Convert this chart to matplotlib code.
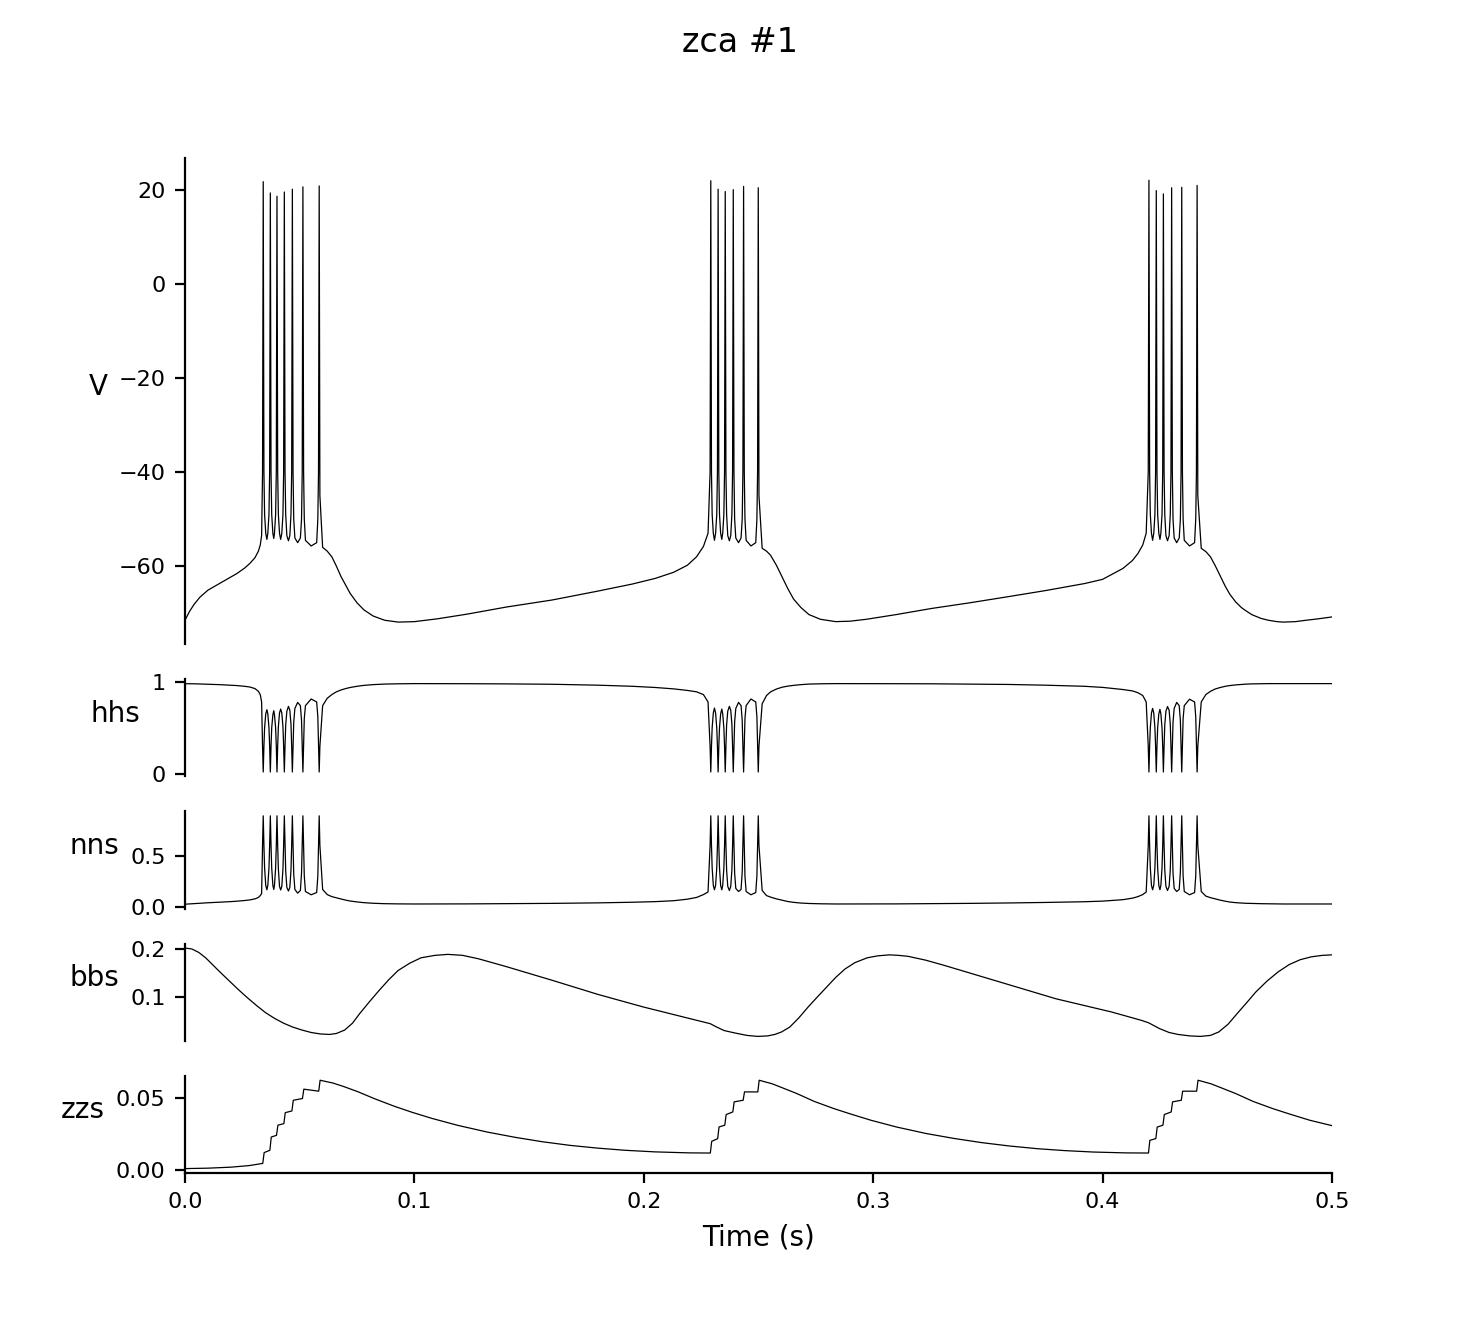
import matplotlib
matplotlib.use("Agg")
import matplotlib.pyplot as plt

# time base (s) for the fast traces V, hhs, nns
t_fast = [
    # before burst 1
    0.0000, 0.0020, 0.0040, 0.0065, 0.0100, 0.0150, 0.0190, 0.0225, 0.0260,
    0.0283, 0.0305, 0.0320, 0.0328, 0.0334,
    # burst 1 (7 spikes)
    0.0338, 0.0341, 0.0344,
    0.0347, 0.0352, 0.0357, 0.0361, 0.0366,
    0.0369, 0.0372, 0.0375,
    0.0378, 0.0383, 0.0387, 0.0390, 0.0395,
    0.0398, 0.0401, 0.0404,
    0.0407, 0.0412, 0.0417, 0.0422, 0.0427,
    0.0430, 0.0433, 0.0436,
    0.0439, 0.0444, 0.0451, 0.0457, 0.0462,
    0.0465, 0.0468, 0.0471,
    0.0474, 0.0479, 0.0491, 0.0503, 0.0508,
    0.0511, 0.0514, 0.0517,
    0.0520, 0.0525, 0.0550, 0.0574, 0.0579,
    0.0582, 0.0585, 0.0588,
    # after burst 1
    0.0600, 0.0620, 0.0640, 0.0660, 0.0680, 0.0700, 0.0720, 0.0750, 0.0780,
    0.0820, 0.0870, 0.0930, 0.1000, 0.1100, 0.1230, 0.1400, 0.1600, 0.1800,
    0.1950, 0.2050, 0.2130, 0.2190, 0.2230, 0.2260, 0.2280,
    # burst 2 (6 spikes)
    0.2289, 0.2292, 0.2295,
    0.2298, 0.2303, 0.2308, 0.2313, 0.2318,
    0.2321, 0.2324, 0.2327,
    0.2330, 0.2335, 0.2340, 0.2344, 0.2349,
    0.2352, 0.2355, 0.2358,
    0.2361, 0.2366, 0.2373, 0.2379, 0.2384,
    0.2387, 0.2390, 0.2393,
    0.2396, 0.2401, 0.2413, 0.2424, 0.2429,
    0.2432, 0.2435, 0.2438,
    0.2441, 0.2446, 0.2467, 0.2488, 0.2493,
    0.2496, 0.2499, 0.2502,
    # after burst 2
    0.2516, 0.2535, 0.2553, 0.2578, 0.2603, 0.2628, 0.2653, 0.2685, 0.2720,
    0.2770, 0.2837, 0.2900, 0.2970, 0.3100, 0.3254, 0.3420, 0.3587, 0.3750,
    0.3921, 0.4000, 0.4088, 0.4130, 0.4154, 0.4175, 0.4190,
    # burst 3 (6 spikes)
    0.4199, 0.4202, 0.4205,
    0.4208, 0.4213, 0.4218, 0.4223, 0.4228,
    0.4231, 0.4234, 0.4237,
    0.4240, 0.4245, 0.4250, 0.4254, 0.4259,
    0.4262, 0.4265, 0.4268,
    0.4271, 0.4276, 0.4283, 0.4290, 0.4295,
    0.4298, 0.4301, 0.4304,
    0.4307, 0.4312, 0.4323, 0.4334, 0.4339,
    0.4342, 0.4345, 0.4348,
    0.4351, 0.4356, 0.4379, 0.4401, 0.4406,
    0.4409, 0.4412, 0.4415,
    # after burst 3
    0.4430, 0.4450, 0.4470, 0.4490, 0.4510, 0.4535, 0.4555, 0.4580, 0.4605,
    0.4622, 0.4650, 0.4690, 0.4722, 0.4760, 0.4788, 0.4840, 0.4888, 0.4940,
    0.5000,
]

V = [
    -71.5, -69.6, -68.1, -66.6, -65.1, -63.7, -62.6, -61.6, -60.4,
    -59.4, -58.2, -56.8, -55.5, -53.5,
    -40, 21.8, -40,
    -49, -53, -54.3, -53, -49,
    -40, 19.4, -40,
    -49, -53, -54.1, -53, -49,
    -40, 18.7, -40,
    -49, -53, -54.3, -53, -49,
    -40, 19.6, -40,
    -49, -53.5, -54.6, -53.5, -49,
    -40, 20.2, -40,
    -50, -54, -55.0, -54, -50,
    -40, 20.7, -40,
    -50, -54.5, -55.7, -55, -50,
    -40, 20.9, -45,
    -56.0, -56.8, -58.0, -60.0, -62.2, -64.0, -65.8, -67.8, -69.3,
    -70.6, -71.5, -71.9, -71.8, -71.2, -70.2, -68.7, -67.2, -65.3,
    -63.8, -62.6, -61.3, -59.8, -58.0, -55.8, -53.0,
    -40, 22.0, -40,
    -49, -53, -54.5, -53, -49,
    -40, 20.2, -40,
    -49, -53, -54.3, -53, -49,
    -40, 19.7, -40,
    -49, -53.5, -54.6, -53.5, -49,
    -40, 20.1, -40,
    -50, -54, -55.0, -54, -50,
    -40, 20.8, -40,
    -50, -54.5, -55.7, -55, -50,
    -40, 20.5, -45,
    -56.2, -56.8, -57.7, -59.8, -62.3, -64.8, -67.0, -68.8, -70.3,
    -71.3, -71.8, -71.7, -71.3, -70.3, -69.0, -67.8, -66.5, -65.2,
    -63.7, -62.8, -60.5, -58.8, -57.3, -55.5, -53.0,
    -40, 22.1, -40,
    -49, -53, -54.5, -53, -49,
    -40, 19.9, -40,
    -49, -53, -54.3, -53, -49,
    -40, 19.2, -40,
    -49, -53.5, -54.6, -53.5, -49,
    -40, 20.5, -40,
    -50, -54, -55.0, -54, -50,
    -40, 20.6, -40,
    -50, -54.5, -55.7, -55, -50,
    -40, 21.0, -45,
    -56.2, -56.9, -58.0, -59.8, -61.8, -64.3, -66.0, -67.6, -68.8,
    -69.4, -70.3, -71.1, -71.5, -71.8, -71.9, -71.8, -71.5, -71.2,
    -70.8,
]

hhs = [
    0.978, 0.978, 0.977, 0.975, 0.972, 0.968, 0.963, 0.958, 0.950,
    0.942, 0.925, 0.895, 0.860, 0.780,
    0.30, 0.02, 0.30,
    0.50, 0.65, 0.696, 0.65, 0.50,
    0.30, 0.02, 0.30,
    0.50, 0.64, 0.685, 0.64, 0.50,
    0.30, 0.02, 0.30,
    0.51, 0.66, 0.703, 0.66, 0.51,
    0.30, 0.02, 0.30,
    0.53, 0.68, 0.732, 0.69, 0.54,
    0.30, 0.02, 0.30,
    0.56, 0.71, 0.775, 0.74, 0.58,
    0.30, 0.02, 0.30,
    0.60, 0.74, 0.812, 0.78, 0.62,
    0.30, 0.02, 0.30,
    0.74, 0.82, 0.86, 0.89, 0.91, 0.925, 0.937, 0.950, 0.960,
    0.968, 0.974, 0.977, 0.979, 0.979, 0.978, 0.976, 0.972, 0.962,
    0.950, 0.937, 0.922, 0.905, 0.89, 0.86, 0.78,
    0.30, 0.02, 0.30,
    0.50, 0.66, 0.714, 0.66, 0.50,
    0.30, 0.02, 0.30,
    0.50, 0.65, 0.703, 0.65, 0.50,
    0.30, 0.02, 0.30,
    0.53, 0.68, 0.732, 0.69, 0.54,
    0.30, 0.02, 0.30,
    0.56, 0.71, 0.775, 0.74, 0.58,
    0.30, 0.02, 0.30,
    0.60, 0.74, 0.812, 0.78, 0.62,
    0.30, 0.02, 0.30,
    0.76, 0.85, 0.89, 0.92, 0.94, 0.952, 0.96, 0.968, 0.974,
    0.977, 0.979, 0.979, 0.979, 0.978, 0.977, 0.974, 0.970, 0.962,
    0.950, 0.938, 0.915, 0.90, 0.88, 0.85, 0.78,
    0.30, 0.02, 0.30,
    0.50, 0.66, 0.710, 0.66, 0.50,
    0.30, 0.02, 0.30,
    0.50, 0.65, 0.700, 0.65, 0.50,
    0.30, 0.02, 0.30,
    0.53, 0.68, 0.730, 0.69, 0.54,
    0.30, 0.02, 0.30,
    0.56, 0.71, 0.775, 0.74, 0.58,
    0.30, 0.02, 0.30,
    0.60, 0.74, 0.810, 0.78, 0.62,
    0.30, 0.02, 0.30,
    0.78, 0.86, 0.895, 0.92, 0.935, 0.95, 0.958, 0.965, 0.970,
    0.973, 0.976, 0.978, 0.979, 0.979, 0.979, 0.979, 0.979, 0.979,
    0.979,
]

nns = [
    0.026, 0.029, 0.032, 0.036, 0.040, 0.045, 0.050, 0.055, 0.062,
    0.068, 0.078, 0.092, 0.110, 0.130,
    0.60, 0.89, 0.60,
    0.38, 0.21, 0.167, 0.21, 0.38,
    0.60, 0.89, 0.60,
    0.38, 0.21, 0.170, 0.21, 0.38,
    0.60, 0.89, 0.60,
    0.37, 0.20, 0.165, 0.20, 0.37,
    0.60, 0.89, 0.60,
    0.35, 0.19, 0.155, 0.19, 0.36,
    0.60, 0.89, 0.60,
    0.32, 0.17, 0.134, 0.16, 0.33,
    0.60, 0.89, 0.60,
    0.30, 0.15, 0.118, 0.14, 0.30,
    0.60, 0.89, 0.60,
    0.17, 0.12, 0.10, 0.088, 0.077, 0.066, 0.057, 0.048, 0.041,
    0.035, 0.031, 0.029, 0.028, 0.028, 0.029, 0.031, 0.034, 0.039,
    0.045, 0.051, 0.060, 0.075, 0.092, 0.12, 0.145,
    0.60, 0.89, 0.60,
    0.38, 0.21, 0.167, 0.21, 0.38,
    0.60, 0.89, 0.60,
    0.38, 0.21, 0.167, 0.21, 0.38,
    0.60, 0.89, 0.60,
    0.36, 0.20, 0.160, 0.20, 0.36,
    0.60, 0.89, 0.60,
    0.33, 0.18, 0.150, 0.17, 0.34,
    0.60, 0.89, 0.60,
    0.30, 0.15, 0.118, 0.14, 0.30,
    0.60, 0.89, 0.60,
    0.16, 0.11, 0.095, 0.078, 0.065, 0.052, 0.044, 0.037, 0.033,
    0.030, 0.028, 0.028, 0.028, 0.029, 0.031, 0.034, 0.038, 0.043,
    0.050, 0.056, 0.070, 0.085, 0.10, 0.12, 0.145,
    0.60, 0.89, 0.60,
    0.38, 0.21, 0.167, 0.21, 0.38,
    0.60, 0.89, 0.60,
    0.38, 0.21, 0.167, 0.21, 0.38,
    0.60, 0.89, 0.60,
    0.36, 0.20, 0.160, 0.20, 0.36,
    0.60, 0.89, 0.60,
    0.33, 0.18, 0.150, 0.17, 0.34,
    0.60, 0.89, 0.60,
    0.30, 0.15, 0.118, 0.14, 0.30,
    0.60, 0.89, 0.60,
    0.15, 0.105, 0.09, 0.078, 0.067, 0.055, 0.047, 0.041, 0.037,
    0.035, 0.033, 0.031, 0.030, 0.029, 0.028, 0.028, 0.028, 0.028,
    0.028,
]

# slow variable bbs
t_b = [
    0.0000, 0.0030, 0.0060, 0.0090, 0.0120, 0.0150, 0.0190, 0.0230, 0.0270, 0.0310,
    0.0350, 0.0390, 0.0430, 0.0470, 0.0510, 0.0550, 0.0590, 0.0630, 0.0660, 0.0696,
    0.0730, 0.0762, 0.0804, 0.0846, 0.0888, 0.0929, 0.0980, 0.1029, 0.1090, 0.1146,
    0.1210, 0.1279, 0.1400, 0.1600, 0.1800, 0.2000, 0.2230, 0.2290, 0.2314, 0.2350,
    0.2397, 0.2450, 0.2497, 0.2540, 0.2571, 0.2600, 0.2636, 0.2676, 0.2716, 0.2757,
    0.2797, 0.2837, 0.2877, 0.2920, 0.2974, 0.3020, 0.3071, 0.3110, 0.3152, 0.3230,
    0.3313, 0.3555, 0.3797, 0.4039, 0.4168, 0.4200, 0.4248, 0.4290, 0.4329, 0.4380,
    0.4426, 0.4470, 0.4506, 0.4547, 0.4587, 0.4628, 0.4668, 0.4716, 0.4765, 0.4813,
    0.4861, 0.4910, 0.4958, 0.5000,
]
bbs = [
    0.201, 0.199, 0.192, 0.181, 0.167, 0.153, 0.135, 0.117, 0.100, 0.084,
    0.069, 0.057, 0.047, 0.039, 0.033, 0.028, 0.025, 0.024, 0.026, 0.033,
    0.047, 0.067, 0.091, 0.114, 0.136, 0.155, 0.170, 0.181, 0.186, 0.188,
    0.186, 0.179, 0.163, 0.135, 0.106, 0.080, 0.053, 0.046, 0.040, 0.032,
    0.027, 0.022, 0.020, 0.021, 0.024, 0.029, 0.039, 0.058, 0.080, 0.101,
    0.121, 0.141, 0.158, 0.171, 0.181, 0.185, 0.187, 0.186, 0.184, 0.176,
    0.165, 0.131, 0.097, 0.070, 0.053, 0.048, 0.036, 0.028, 0.024, 0.021,
    0.020, 0.022, 0.029, 0.045, 0.067, 0.089, 0.111, 0.133, 0.152, 0.167,
    0.177, 0.183, 0.186, 0.187,
]

# staircase variable zzs
t_z = [
    0.0000, 0.0100, 0.0200, 0.0280, 0.0339,
    0.0345, 0.0370, 0.0376, 0.0399, 0.0405, 0.0431, 0.0437, 0.0466, 0.0472,
    0.0512, 0.0518, 0.0583, 0.0589,
    0.0646, 0.0694, 0.0754, 0.0829, 0.0915, 0.0989, 0.1077, 0.1189, 0.1319,
    0.1439, 0.1559, 0.1679, 0.1799, 0.1919, 0.2049, 0.2200, 0.2290,
    0.2296, 0.2322, 0.2328, 0.2353, 0.2359, 0.2388, 0.2394, 0.2433, 0.2439,
    0.2497, 0.2503,
    0.2560, 0.2608, 0.2668, 0.2743, 0.2829, 0.2903, 0.2991, 0.3103, 0.3232,
    0.3353, 0.3474, 0.3593, 0.3716, 0.3833, 0.3958, 0.4100, 0.4200,
    0.4206, 0.4232, 0.4238, 0.4263, 0.4269, 0.4299, 0.4305, 0.4343, 0.4349,
    0.4410, 0.4416,
    0.4473, 0.4521, 0.4581, 0.4656, 0.4742, 0.4816, 0.4904, 0.5000,
]
zzs = [
    0.0012, 0.0015, 0.0022, 0.0033, 0.0048,
    0.0123, 0.0139, 0.0231, 0.0243, 0.0313, 0.0324, 0.0400, 0.0412, 0.0486,
    0.0498, 0.0563, 0.0549, 0.0625,
    0.0605, 0.0580, 0.0545, 0.0495, 0.0443, 0.0403, 0.0360, 0.0312, 0.0265,
    0.0229, 0.0198, 0.0173, 0.0154, 0.0139, 0.0128, 0.0121, 0.0120,
    0.0201, 0.0220, 0.0301, 0.0313, 0.0387, 0.0405, 0.0475, 0.0486, 0.0544,
    0.0544, 0.0625,
    0.0600, 0.0570, 0.0532, 0.0478, 0.0428, 0.0390, 0.0347, 0.0300, 0.0255,
    0.0221, 0.0192, 0.0169, 0.0150, 0.0137, 0.0127, 0.0121, 0.0120,
    0.0208, 0.0220, 0.0300, 0.0313, 0.0387, 0.0405, 0.0475, 0.0486, 0.0549,
    0.0549, 0.0625,
    0.0600, 0.0570, 0.0532, 0.0478, 0.0428, 0.0390, 0.0347, 0.0310,
]

labels = ["V", "hhs", "nns", "bbs", "zzs"]
yticks = [[-60, -40, -20, 0, 20], [0, 1], [0.0, 0.5], [0.1, 0.2], [0.00, 0.05]]
ytick_labels = [["\u221260", "\u221240", "\u221220", "0", "20"], ["0", "1"],
                ["0.0", "0.5"], ["0.1", "0.2"], ["0.00", "0.05"]]
xticks = [0.0, 0.1, 0.2, 0.3, 0.4, 0.5]

plt.rcParams['xtick.labelsize'] = 8
plt.rcParams['ytick.labelsize'] = 8

fig = plt.figure(figsize=(7.4, 6.59), dpi=200)
gs = fig.add_gridspec(5, 1, height_ratios=[5, 1, 1, 1, 1])
axes = [fig.add_subplot(gs[i]) for i in range(5)]

series = [(t_fast, V), (t_fast, hhs), (t_fast, nns), (t_b, bbs), (t_z, zzs)]
for i, (ax, (tt, yy)) in enumerate(zip(axes, series)):
    ax.plot(tt, yy, color='black', linewidth=0.45)
    ax.set_xlim(0, 0.5)
    ax.set_yticks(yticks[i])
    ax.set_yticklabels(ytick_labels[i])
    ax.set_ylabel(labels[i], rotation=0, ha='right', fontsize=10)
    ax.spines['top'].set_visible(False)
    ax.spines['right'].set_visible(False)
    if i < 4:
        ax.spines['bottom'].set_visible(False)
        ax.tick_params(axis='x', bottom=False, labelbottom=False)

axes[-1].set_xticks(xticks)
axes[-1].set_xlabel('Time (s)', fontsize=10)
fig.suptitle('zca #1', fontsize=12)

fig.savefig('out.png', dpi=200)
